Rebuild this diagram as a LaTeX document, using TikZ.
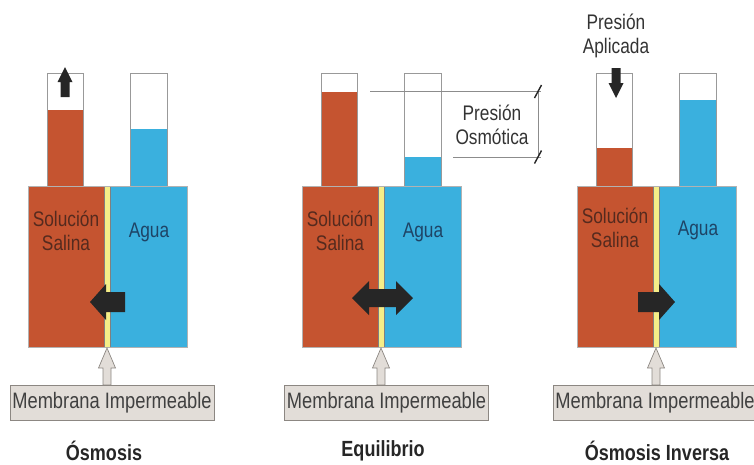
\documentclass[tikz,border=0pt]{standalone}
\usepackage{fontspec}
\setmainfont{Liberation Sans}[FakeStretch=0.82]
\usetikzlibrary{positioning}
\definecolor{salina}{RGB}{197,84,48}
\definecolor{agua}{RGB}{58,176,222}
\definecolor{membrana}{RGB}{245,238,136}
\definecolor{caja}{RGB}{226,221,216}
\definecolor{borde}{RGB}{140,135,130}
\definecolor{texsal}{RGB}{85,42,30}
\definecolor{texagua}{RGB}{30,68,102}

\begin{document}
\begin{tikzpicture}[
            x = 0.02cm, y = -0.02cm, % one unit = one pixel
            font = \fontsize{12}{13.5}\selectfont,
            semithick % line style
        ]

        \tikzstyle{rotulo}=[align=center, inner sep=0pt]
        \tikzstyle{tubo}=[draw=black!40, thin, fill=white]
        \tikzstyle{flecha}=[fill=black!85]
        \tikzstyle{puntero}=[draw=borde, fill=caja, thin]
        \tikzstyle{recuadro}=[draw=borde, fill=caja, thin, inner sep=0pt,
            minimum width=4.08cm, minimum height=0.7cm,
            font=\fontsize{12.7}{14}\selectfont, text=black!75]
        \tikzstyle{titulo}=[inner sep=0pt, font=\fontsize{12.5}{14}\selectfont\bfseries, text=black!85]

        \clip (0,0) rectangle (754,464);

        % osmosis
        \begin{scope}
            \filldraw[tubo] (47,73) rectangle (83,186);
            \fill[salina] (47.5,110) rectangle (82.5,186);
            \filldraw[tubo] (130,73) rectangle (167,186);
            \fill[agua] (130.5,129) rectangle (166.5,186);
            \fill[salina] (28,186) rectangle (104,347);
            \fill[agua] (110,186) rectangle (187,347);
            \filldraw[draw=black!50, thin, fill=membrana] (104,186) rectangle (110,347);
            \draw[black!30, thin] (28,186) rectangle (187,347);

            \node[rotulo, text=texsal] (S1) at (66,231) {Solución\\Salina};
            \node[rotulo, text=texagua] (A1) at (149,232) {Agua};

            \fill[flecha] (65,67) -- (72.5,82) -- (69.5,82) -- (69.5,97) -- (60.5,97) -- (60.5,82) -- (57.5,82) -- cycle;
            \fill[flecha] (90,302) -- (106,284) -- (106,292) -- (125,292) -- (125,312) -- (106,312) -- (106,320) -- cycle;

            \filldraw[puntero] (107,348) -- (115.5,368) -- (111,368) -- (111,385) -- (103,385) -- (103,368) -- (98.5,368) -- cycle;
        \end{scope}
        \node[recuadro] (MB1) at (112,402.5) {Membrana Impermeable};
        \node[titulo] (T1) at (104,451) {Ósmosis};

        % equilibrio
        \begin{scope}[shift={(274,0)}]
            \filldraw[tubo] (47,73) rectangle (83,186);
            \fill[salina] (47.5,92) rectangle (82.5,186);
            \filldraw[tubo] (130,73) rectangle (167,186);
            \fill[agua] (130.5,157) rectangle (166.5,186);
            \fill[salina] (28,186) rectangle (104,347);
            \fill[agua] (110,186) rectangle (187,347);
            \filldraw[draw=black!50, thin, fill=membrana] (104,186) rectangle (110,347);
            \draw[black!30, thin] (28,186) rectangle (187,347);

            \node[rotulo, text=texsal] (S2) at (66,231) {Solución\\Salina};
            \node[rotulo, text=texagua] (A2) at (149,232) {Agua};

            \fill[flecha] (78,298) -- (95,281) -- (95,289) -- (122,289) -- (122,281) -- (139,298)
                -- (122,315) -- (122,307) -- (95,307) -- (95,315) -- cycle;

            \filldraw[puntero] (107,348) -- (115.5,368) -- (111,368) -- (111,385) -- (103,385) -- (103,368) -- (98.5,368) -- cycle;
        \end{scope}
        \node[recuadro] (MB2) at (386.5,402.5) {Membrana Impermeable};
        \node[titulo] (T2) at (383,451) {Equilibrio};

        % presion osmotica
        \draw[black!45, thin] (370,91.5) -- (541,91.5);
        \draw[black!45, thin] (453,157) -- (541,157);
        \draw[black!45, thin] (538,91.5) -- (538,157);
        \draw[black!85, thick] (534.5,98) -- (541.5,85);
        \draw[black!85, thick] (534.5,163.5) -- (541.5,150.5);
        \node[rotulo, text=black!80] (PO) at (492,125) {Presión\\Osmótica};

        % osmosis inversa
        \begin{scope}[shift={(549,0)}]
            \filldraw[tubo] (47,73) rectangle (83,186);
            \fill[salina] (47.5,148) rectangle (82.5,186);
            \filldraw[tubo] (130,73) rectangle (167,186);
            \fill[agua] (130.5,100) rectangle (166.5,186);
            \fill[salina] (28,186) rectangle (104,347);
            \fill[agua] (110,186) rectangle (187,347);
            \filldraw[draw=black!50, thin, fill=membrana] (104,186) rectangle (110,347);
            \draw[black!30, thin] (28,186) rectangle (187,347);

            \node[rotulo, text=texsal] (S3) at (66,228) {Solución\\Salina};
            \node[rotulo, text=texagua] (A3) at (149,230) {Agua};

            \fill[flecha] (67,98) -- (74.5,83) -- (71.5,83) -- (71.5,68) -- (62.5,68) -- (62.5,83) -- (59.5,83) -- cycle;
            \fill[flecha] (126,302) -- (110,284) -- (110,292) -- (89,292) -- (89,312) -- (110,312) -- (110,320) -- cycle;

            \filldraw[puntero] (107,348) -- (115.5,368) -- (111,368) -- (111,385) -- (103,385) -- (103,368) -- (98.5,368) -- cycle;
        \end{scope}
        \node[rotulo, text=black!80] (PA) at (616,36) {Presión\\Aplicada};
        \node[recuadro] (MB3) at (655,402.5) {Membrana Impermeable};
        \node[titulo] (T3) at (657,451) {Ósmosis Inversa};

\end{tikzpicture}
\end{document}
